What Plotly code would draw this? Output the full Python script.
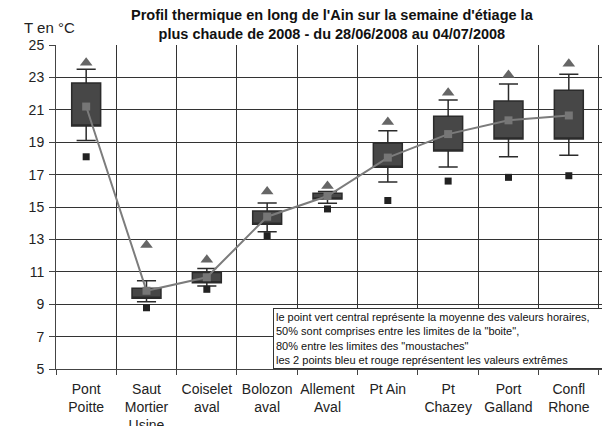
import plotly.graph_objects as go

sites = ["Pont<br>Poitte", "Saut<br>Mortier<br>Usine", "Coiselet<br>aval", "Bolozon<br>aval",
         "Allement<br>Aval", "Pt Ain", "Pt<br>Chazey", "Port<br>Galland", "Confl<br>Rhone"]
t_max = [23.9, 12.65, 11.75, 15.95, 16.3, 20.25, 22.05, 23.15, 23.85]
p90 = [23.5, 10.45, 11.2, 15.25, 15.95, 19.7, 21.6, 22.6, 23.2]
q3 = [22.65, 9.98, 10.95, 14.75, 15.85, 18.95, 20.6, 21.55, 22.2]
mean = [21.2, 9.83, 10.66, 14.4, 15.68, 18.05, 19.5, 20.35, 20.65]
q1 = [20.0, 9.36, 10.33, 13.93, 15.5, 17.45, 18.45, 19.2, 19.2]
p10 = [19.1, 9.15, 10.12, 13.47, 15.23, 16.55, 17.47, 18.1, 18.2]
t_min = [18.1, 8.78, 9.92, 13.23, 14.88, 15.4, 16.6, 16.83, 16.93]

title = ("<b>Profil thermique en long de l'Ain sur la semaine d'étiage la<br>"
         "plus chaude de 2008 - du 28/06/2008 au 04/07/2008</b>")
note = ("le point vert central représente la moyenne des valeurs horaires,<br>"
        "50% sont comprises entre les limites de la \"boite\",<br>"
        "80% entre les limites des \"moustaches\"<br>"
        "les 2 points bleu et rouge représentent les valeurs extrêmes")

fig = go.Figure()
fig.add_trace(go.Box(
    x=sites, q1=q1, median=q1, q3=q3, lowerfence=p10, upperfence=p90,
    width=0.48, whiskerwidth=0.66, fillcolor='#474747',
    line=dict(color='#2b2b2b', width=1.5), showlegend=False, hoverinfo='skip',
))
fig.add_trace(go.Scatter(
    x=sites, y=mean, mode='lines+markers', showlegend=False,
    line=dict(color='#7c7c7c', width=2),
    marker=dict(symbol='square', color='#767676', size=8),
))
fig.add_trace(go.Scatter(
    x=sites, y=t_max, mode='markers', showlegend=False,
    marker=dict(symbol='triangle-up', color='#666666', size=11),
))
fig.add_trace(go.Scatter(
    x=sites, y=t_min, mode='markers', showlegend=False,
    marker=dict(symbol='square', color='#222222', size=7),
))

fig.update_layout(
    width=602, height=426, margin=dict(t=45, b=57, l=56, r=0),
    paper_bgcolor='white', plot_bgcolor='white',
    font=dict(family='Liberation Sans, Arial', size=14, color='#222'),
    xaxis=dict(type='category', tickson='boundaries', showgrid=True,
               gridcolor='#333', gridwidth=1, ticks='outside', ticklen=5,
               tickcolor='#444', showline=True, linecolor='#444',
               range=[-0.5, 8.55], tickangle=0, automargin=False,
               ticklabelstandoff=7),
    yaxis=dict(range=[5, 25], tick0=5, dtick=2, showgrid=True, gridcolor='#333',
               gridwidth=1, ticks='outside', ticklen=6, tickcolor='#444',
               showline=True, linecolor='#444', zeroline=False, automargin=False,
               ticklabelstandoff=2),
    annotations=[
        dict(text=title, xref='paper', yref='paper', x=0.507, y=1.063,
             xanchor='center', yanchor='middle', showarrow=False,
             font=dict(size=14.5, color='#111')),
        dict(text='T en °C', xref='paper', yref='paper', x=-0.062, y=1.055,
             xanchor='left', yanchor='middle', showarrow=False,
             font=dict(size=15, color='#222')),
        dict(text=note, xref='paper', yref='paper', x=0.397, y=0,
             xanchor='left', yanchor='bottom', showarrow=False, align='left',
             bgcolor='white', bordercolor='#333', borderwidth=1, borderpad=2,
             width=326, font=dict(size=11, color='#111')),
    ],
    hovermode=False,
)

fig.write_html("out.html", config={'displayModeBar': False},
               post_script="document.body.style.margin='0';")
